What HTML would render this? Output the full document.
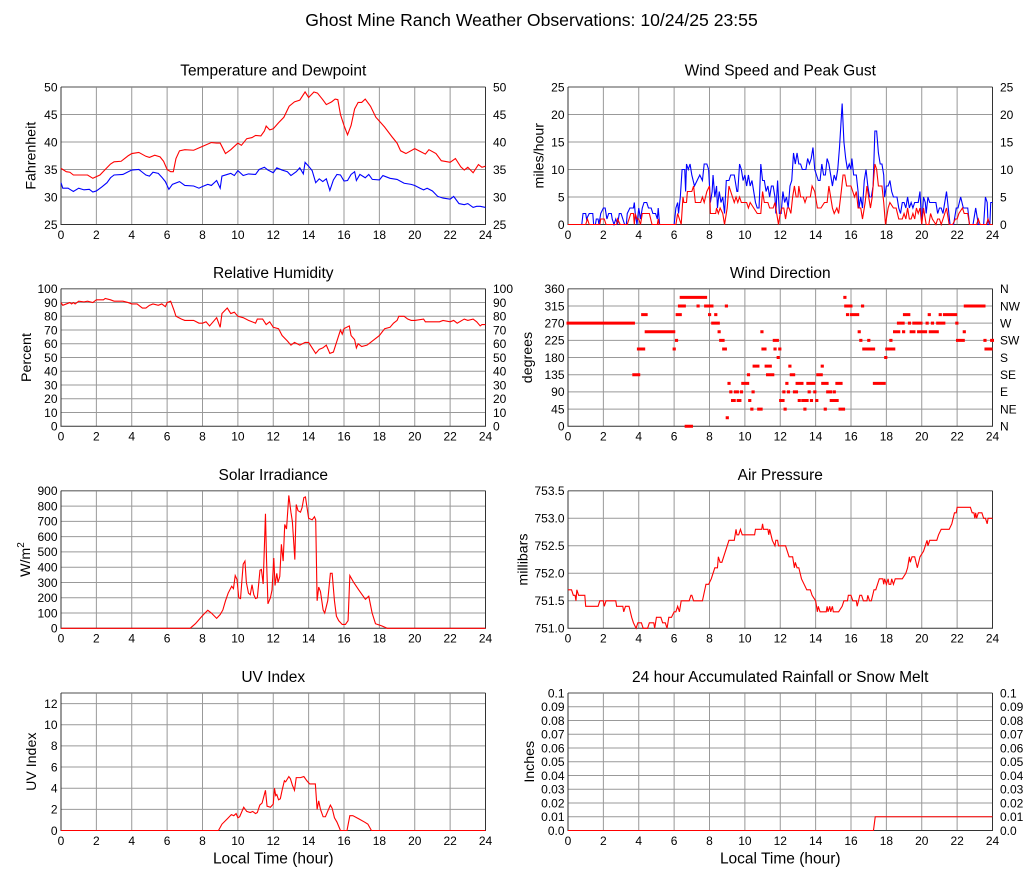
<!DOCTYPE html>
<html><head><meta charset="utf-8"><style>
html,body{margin:0;padding:0;background:#fff}
svg{display:block}
text{font-family:"Liberation Sans",Arial,sans-serif;fill:#000}
.t{font-size:12px}
.e{text-anchor:end}
.m{text-anchor:middle}
.h{font-size:15.5px;text-anchor:middle}
.a{font-size:14.2px;text-anchor:middle}
.g{stroke:#999;stroke-width:1;fill:none}
.f{stroke:#333;stroke-width:1;fill:none}
.ft{stroke:#888;stroke-width:1.5;fill:none}
.r{stroke:#f00;stroke-width:1.1;fill:none;vector-effect:non-scaling-stroke}
.b{stroke:#00f;stroke-width:1.1;fill:none;vector-effect:non-scaling-stroke}
.d{stroke:#f00;stroke-width:3;fill:none;stroke-linecap:square;vector-effect:non-scaling-stroke}
</style></head><body>
<svg width="1027" height="878" viewBox="0 0 1027 878" xmlns="http://www.w3.org/2000/svg">
<rect width="1027" height="878" fill="#fff"/>
<defs><path id="vg" d="M35.375 0V137.5M70.75 0V137.5M106.125 0V137.5M141.5 0V137.5M176.875 0V137.5M212.25 0V137.5M247.625 0V137.5M283 0V137.5M318.375 0V137.5M353.75 0V137.5M389.125 0V137.5"/></defs>
<text x="531.5" y="26" style="font-size:17.6px" text-anchor="middle">Ghost Mine Ranch Weather Observations: 10/24/25 23:55</text>

<!-- Temperature -->
<g transform="translate(61,87)">
<use href="#vg" class="g"/>
<path class="g" d="M0 27.5H424.5M0 55H424.5M0 82.5H424.5M0 110H424.5"/>
<path class="ft" d="M0 0H424.5"/><path class="f" d="M0 0V137.5H424.5V0"/>
<g transform="translate(0,137.5) scale(17.6875,-5.5) translate(0,-25)">
<polyline class="r" points="0,35.2 0.3,34.6 0.5,34.5 0.7,34.0 1,34.0 1.5,34.0 1.8,33.4 2.2,34.0 2.5,35.0 2.8,36.0 3.0,36.4 3.4,36.5 3.8,37.5 4.0,37.9 4.4,38.1 4.8,37.4 5.0,37.2 5.3,37.6 5.6,37.3 5.8,36.5 6.0,35.0 6.2,34.6 6.35,34.6 6.5,37.0 6.7,38.4 7.0,38.6 7.5,38.5 8.0,39.2 8.5,39.9 8.8,39.8 9.0,39.8 9.3,37.9 9.6,38.6 10.0,39.8 10.2,39.4 10.5,40.6 10.8,40.8 11.0,41.2 11.3,41.1 11.5,42.0 11.6,42.9 11.8,42.2 12.0,42.4 12.3,43.5 12.6,44.5 12.9,46.5 13.2,47.3 13.5,47.6 13.8,49.1 14.0,48.1 14.3,49.1 14.5,48.9 14.8,47.7 15.0,46.8 15.3,47.3 15.5,47.8 15.65,47.7 15.8,45.0 16.0,43.0 16.2,41.3 16.4,43.0 16.6,46.0 16.8,47.2 17.0,47.2 17.2,47.8 17.5,46.5 17.8,44.5 18.0,43.8 18.3,42.7 18.7,41.0 19.0,39.8 19.2,38.4 19.5,37.9 20.0,38.8 20.3,38.3 20.6,37.8 20.8,38.6 21.2,37.9 21.5,36.6 22.0,36.3 22.3,37.0 22.6,35.5 22.8,34.9 23.0,35.4 23.3,34.4 23.6,35.9 23.8,35.4 24,35.6"/>
<polyline class="b" points="0,32.6 0.1,31.6 0.4,31.6 0.5,31.4 0.7,31.0 1.0,31.6 1.3,31.3 1.6,31.4 1.8,30.9 2.0,31.1 2.3,31.8 2.6,32.6 2.8,33.5 3.0,34.0 3.5,34.1 4.0,34.9 4.4,35.0 4.6,34.5 4.8,34.0 5.0,33.8 5.2,34.5 5.5,34.3 5.7,33.6 5.9,32.8 6.1,31.4 6.3,32.3 6.7,32.8 7.0,32.1 7.5,32.0 7.8,31.6 8.0,31.9 8.3,32.3 8.5,32.1 8.8,33.0 9.0,31.6 9.1,33.8 9.4,34.1 9.6,34.3 9.8,33.9 10.0,34.8 10.3,33.9 10.6,34.2 11.0,34.1 11.2,35.0 11.5,35.4 11.7,34.9 12.0,34.4 12.2,35.3 12.5,34.9 12.8,34.6 13.0,33.9 13.3,34.6 13.5,35.3 13.7,34.2 13.8,36.3 14.0,35.6 14.2,34.8 14.4,32.6 14.6,33.3 14.8,32.8 15.0,33.3 15.2,31.2 15.4,33.1 15.6,34.1 15.8,34.0 16.0,32.9 16.2,33.0 16.4,34.1 16.6,34.6 16.7,33.0 16.9,34.1 17.2,33.5 17.4,34.1 17.6,33.2 18.0,33.1 18.2,33.9 18.6,33.4 19.0,33.2 19.4,32.5 19.8,32.3 20.0,32.1 20.3,31.6 20.5,31.3 20.7,31.6 21.0,31.1 21.3,30.1 21.6,29.8 22.0,29.6 22.2,30.1 22.5,28.8 22.8,28.6 23.0,28.8 23.3,28.1 23.5,28.3 23.7,28.3 24,28.1"/>
</g>
<text class="h" x="212.25" y="-11.5">Temperature and Dewpoint</text>
<text class="a" transform="translate(-25.5,68.75) rotate(-90)">Fahrenheit</text>
<g class="t e"><text x="-3.5" y="4.3">50</text><text x="-3.5" y="31.8">45</text><text x="-3.5" y="59.3">40</text><text x="-3.5" y="86.8">35</text><text x="-3.5" y="114.3">30</text><text x="-3.5" y="141.8">25</text></g>
<g class="t"><text x="432" y="4.3">50</text><text x="432" y="31.8">45</text><text x="432" y="59.3">40</text><text x="432" y="86.8">35</text><text x="432" y="114.3">30</text><text x="432" y="141.8">25</text></g>
<g class="t m"><text x="0" y="151.8">0</text><text x="35.375" y="151.8">2</text><text x="70.75" y="151.8">4</text><text x="106.125" y="151.8">6</text><text x="141.5" y="151.8">8</text><text x="176.875" y="151.8">10</text><text x="212.25" y="151.8">12</text><text x="247.625" y="151.8">14</text><text x="283" y="151.8">16</text><text x="318.375" y="151.8">18</text><text x="353.75" y="151.8">20</text><text x="389.125" y="151.8">22</text><text x="424.5" y="151.8">24</text></g>
</g>

<!-- Wind speed -->
<g transform="translate(568,87)">
<use href="#vg" class="g"/>
<path class="g" d="M0 27.5H424.5M0 55H424.5M0 82.5H424.5M0 110H424.5"/>
<path class="ft" d="M0 0H424.5"/><path class="f" d="M0 0V137.5H424.5V0"/>
<g transform="translate(0,137.5) scale(17.6875,-5.5)">
<polyline class="b" points="0,0 0.78,0 0.85,2 1.0,2 1.05,1 1.2,2 1.4,2 1.45,0 1.55,0 1.6,1 1.7,1 1.75,0 1.85,2 2.0,3 2.1,3 2.2,1 2.3,2 2.45,2 2.5,1 2.6,0 2.7,1 2.8,0 2.9,2 3.0,2 3.1,1 3.2,0 3.3,0 3.35,2 3.5,3 3.6,3 3.7,3 3.75,4 3.8,2 3.9,0 4.0,3 4.1,1 4.2,3 4.3,4 4.45,4 4.55,3 4.7,3 4.8,2 4.95,2 5.05,1 5.1,3 5.18,0 6.0,0 6.1,3 6.2,4 6.25,2 6.35,5 6.45,10 6.6,10 6.65,6 6.7,11 6.8,10 6.9,11 7.0,9 7.15,7 7.3,8 7.45,9 7.6,8 7.7,11 7.85,11 7.95,10 8.05,4 8.15,6 8.2,9 8.3,5 8.4,7 8.45,3 8.55,6 8.65,4 8.75,5 8.85,2 8.95,8 9.1,8 9.2,9 9.4,9 9.55,6 9.6,6 9.7,11 9.8,10 9.9,8 10.0,9 10.1,7 10.2,9 10.3,7 10.4,8 10.5,6 10.6,4 10.7,3 10.8,3 10.9,11 11.0,8 11.1,8 11.2,6 11.3,7 11.4,5 11.5,7 11.6,7 11.7,5 11.75,2 11.85,8 11.95,2 12.05,2 12.15,6 12.25,4 12.35,5 12.45,3 12.55,7 12.65,8 12.75,13 12.85,11 12.95,13 13.05,11 13.15,11 13.25,10 13.45,10 13.55,12 13.65,11 13.75,12 13.85,14 13.95,10 14.05,9 14.15,8 14.25,8 14.35,11 14.45,9 14.55,9 14.65,12 14.75,11 14.85,9 14.95,7 15.05,9 15.15,8 15.25,10 15.35,14 15.5,22 15.6,15 15.7,12 15.8,10 15.9,11 16.0,10 16.05,12 16.15,9 16.3,9 16.4,6 16.45,3 16.55,5 16.65,3 16.75,8 16.85,10 16.95,7 17.05,5 17.15,5 17.25,7 17.35,17 17.45,17 17.55,13 17.65,11 17.75,11 17.85,9 17.9,5 18.0,7 18.1,7 18.2,8 18.3,6 18.4,5 18.5,5 18.6,5 18.7,3 18.8,2 18.9,4 19.0,4 19.1,3 19.2,5 19.3,3 19.4,4 19.5,3 19.6,4 19.7,4 19.8,4 19.9,6 20.0,0 20.1,5 20.2,4 20.25,2 20.35,5 20.45,4 20.8,4 20.9,2 21.0,3 21.1,3 21.2,2 21.3,4 21.4,6 21.5,3 21.6,0 21.8,0 21.95,3 22.05,3 22.2,5 22.35,3 22.6,3 22.7,0 22.9,0 23.05,3 23.2,0 23.5,0 23.6,5 23.7,4 23.75,0 23.85,0 23.9,4 24,4"/>
<polyline class="r" points="0,0 1.0,0 1.1,1 1.2,0 1.8,0 1.85,1 2.05,1 2.15,0 2.75,0 2.8,1 2.95,0 3.35,0 3.45,1 3.55,2 3.7,2 3.75,0 3.8,2 3.9,1 4.0,1 4.1,0 4.2,2 4.6,2 4.75,0 5.05,0 5.1,1 5.15,0 6.1,0 6.2,2 6.3,1 6.4,0 6.5,5 6.55,4 6.7,4 6.75,6 7.0,6 7.1,7 7.2,4 7.5,4 7.6,5 7.7,4 7.85,6 8.0,7 8.05,2 8.35,2 8.4,3 8.5,2 8.6,3 8.75,2 8.85,0 9.0,3 9.1,7 9.2,6 9.3,5 9.4,4 9.5,5 9.6,4 9.7,5 9.8,4 10.1,4 10.2,3 10.3,4 10.5,3 10.7,2 10.9,2 11.0,6 11.1,4 11.3,4 11.4,3 11.6,3 11.7,4 11.8,2 11.9,0 12.0,2 12.1,3 12.2,3 12.3,1 12.4,3 12.5,3 12.6,2 12.7,5 12.8,7 12.9,5 13.0,5 13.05,7 13.15,5 13.3,5 13.4,4 13.5,5 13.7,5 13.8,7 13.95,6 14.1,3 14.3,3 14.5,4 14.65,4 14.75,7 14.85,5 14.95,3 15.05,2 15.2,3 15.3,2 15.45,6 15.55,9 15.65,9 15.75,7 16.0,7 16.1,6 16.2,5 16.3,6 16.4,3 16.55,3 16.65,1 16.8,4 16.9,7 17.0,5 17.1,3 17.2,5 17.35,11 17.45,10 17.55,7 17.75,7 17.85,4 17.95,0 18.1,3 18.2,4 18.4,3 18.55,3 18.7,1 18.9,1 19.0,2 19.1,1 19.2,3 19.3,1 19.4,1 19.5,2 19.6,1 19.7,3 19.8,2 19.9,3 20.0,0 20.1,3 20.25,0 20.4,0 20.5,2 20.6,1 20.8,0 20.9,1 21.0,1 21.1,0 21.3,2 21.4,3 21.55,0 21.75,0 21.9,1 22.0,1 22.1,2 22.3,3 22.4,2 22.6,2 22.7,0 23.1,0 23.2,1 23.3,0 23.65,0 23.75,1 23.85,0 24,0"/>
</g>
<text class="h" x="212.25" y="-11.5">Wind Speed and Peak Gust</text>
<text class="a" transform="translate(-24.5,68.75) rotate(-90)">miles/hour</text>
<g class="t e"><text x="-3.5" y="4.3">25</text><text x="-3.5" y="31.8">20</text><text x="-3.5" y="59.3">15</text><text x="-3.5" y="86.8">10</text><text x="-3.5" y="114.3">5</text><text x="-3.5" y="141.8">0</text></g>
<g class="t"><text x="432" y="4.3">25</text><text x="432" y="31.8">20</text><text x="432" y="59.3">15</text><text x="432" y="86.8">10</text><text x="432" y="114.3">5</text><text x="432" y="141.8">0</text></g>
<g class="t m"><text x="0" y="151.8">0</text><text x="35.375" y="151.8">2</text><text x="70.75" y="151.8">4</text><text x="106.125" y="151.8">6</text><text x="141.5" y="151.8">8</text><text x="176.875" y="151.8">10</text><text x="212.25" y="151.8">12</text><text x="247.625" y="151.8">14</text><text x="283" y="151.8">16</text><text x="318.375" y="151.8">18</text><text x="353.75" y="151.8">20</text><text x="389.125" y="151.8">22</text><text x="424.5" y="151.8">24</text></g>
</g>

<!-- Relative Humidity -->
<g transform="translate(61,288.8)">
<use href="#vg" class="g"/>
<path class="g" d="M0 13.75H424.5M0 27.5H424.5M0 41.25H424.5M0 55H424.5M0 68.75H424.5M0 82.5H424.5M0 96.25H424.5M0 110H424.5M0 123.75H424.5"/>
<path class="ft" d="M0 0H424.5"/><path class="f" d="M0 0V137.5H424.5V0"/>
<g transform="translate(0,137.5) scale(17.6875,-1.375)">
<polyline class="r" points="0,90 0.1,88 0.3,89 0.5,90 0.6,89 0.7,90 0.8,89 1.0,91 1.3,90.5 1.5,91 1.8,90 2.0,92 2.4,92 2.5,93 2.8,92 3.0,91 3.5,91 3.8,90 4.0,89 4.3,89 4.6,86 4.8,86 5.0,88 5.2,89 5.5,88 5.7,89 5.8,88 5.9,87 6.0,90 6.2,91 6.4,84 6.5,80 6.8,78 7.0,77 7.5,77 7.8,75 8.0,75 8.2,76 8.4,73 8.6,76 8.8,79 9.0,72 9.1,82 9.4,86 9.6,82 9.8,83 10.0,80 10.3,79 10.6,77 11.0,75 11.1,78 11.4,78 11.6,74 11.8,76 12.0,72 12.3,71 12.5,66 12.8,62 13.0,59 13.2,61 13.5,59 13.8,61 14.0,61 14.2,57 14.4,53 14.6,56 14.8,57 15.0,59 15.2,53 15.4,54 15.6,62 15.8,70 15.9,67 16.0,71 16.3,73 16.4,66 16.6,63 16.7,57 16.8,60 17.0,58 17.3,59 17.5,61 17.8,64 18.0,66 18.3,71 18.6,72 18.8,75 19.0,77 19.1,80 19.4,80 19.6,78 19.8,77 20.0,77 20.5,78 20.6,76 21.0,76 21.4,76 21.6,77 22.0,76 22.2,77 22.4,75 22.8,78 23.0,77 23.3,78 23.5,76 23.7,73 23.8,74 24,74"/>
</g>
<text class="h" x="212.25" y="-11">Relative Humidity</text>
<text class="a" transform="translate(-30,68.75) rotate(-90)">Percent</text>
<g class="t e"><text x="-3.5" y="4.3">100</text><text x="-3.5" y="18.05">90</text><text x="-3.5" y="31.8">80</text><text x="-3.5" y="45.55">70</text><text x="-3.5" y="59.3">60</text><text x="-3.5" y="73.05">50</text><text x="-3.5" y="86.8">40</text><text x="-3.5" y="100.55">30</text><text x="-3.5" y="114.3">20</text><text x="-3.5" y="128.05">10</text><text x="-3.5" y="141.8">0</text></g>
<g class="t"><text x="432" y="4.3">100</text><text x="432" y="18.05">90</text><text x="432" y="31.8">80</text><text x="432" y="45.55">70</text><text x="432" y="59.3">60</text><text x="432" y="73.05">50</text><text x="432" y="86.8">40</text><text x="432" y="100.55">30</text><text x="432" y="114.3">20</text><text x="432" y="128.05">10</text><text x="432" y="141.8">0</text></g>
<g class="t m"><text x="0" y="151.8">0</text><text x="35.375" y="151.8">2</text><text x="70.75" y="151.8">4</text><text x="106.125" y="151.8">6</text><text x="141.5" y="151.8">8</text><text x="176.875" y="151.8">10</text><text x="212.25" y="151.8">12</text><text x="247.625" y="151.8">14</text><text x="283" y="151.8">16</text><text x="318.375" y="151.8">18</text><text x="353.75" y="151.8">20</text><text x="389.125" y="151.8">22</text><text x="424.5" y="151.8">24</text></g>
</g>

<!-- Wind Direction -->
<g transform="translate(568,288.8)">
<use href="#vg" class="g"/>
<path class="g" d="M0 17.19H424.5M0 34.38H424.5M0 51.56H424.5M0 68.75H424.5M0 85.94H424.5M0 103.13H424.5M0 120.31H424.5"/>
<path class="ft" d="M0 0H424.5"/><path class="f" d="M0 0V137.5H424.5V0"/>
<g transform="translate(0,137.5) scale(17.6875,-0.381944)">
<path class="d" d="M0 270H3.7M3.72 135H4.0M3.98 202.5H4.28M4.22 292.5H4.42M4.42 247.5H5.98M6.0 202.5h.01M6.13 225h.01M6.17 292.5H6.35M6.3 315H6.58M6.4 337.5H6.65M6.68 0H6.98M6.78 337.5H7.3M7.35 315h.01M7.42 337.5H7.78M7.78 315H8.14M8.0 292.5h.01M8.18 270H8.5M8.35 292.5h.01M8.54 247.5h.01M8.63 225H8.77M8.8 202.5H8.9M8.95 315h.01M9.0 22.5h.01M9.1 112.5h.01M9.2 90h.01M9.3 67.5H9.4M9.46 90H9.58M9.62 67.5H9.72M9.8 90h.01M9.88 112.5H10.16M10.2 135h.01M10.27 67.5h.01M10.39 45h.01M10.46 90h.01M10.52 157.5H10.74M10.78 45H10.92M10.96 247.5h.01M11.02 202.5H11.14M11.2 157.5H11.44M11.28 135H11.58M11.66 225H11.84M11.7 202.5h.01M11.88 180h.01M11.97 202.5h.01M12.02 67.5H12.16M12.2 90h.01M12.27 45h.01M12.37 112.5h.01M12.46 90h.01M12.54 157.5h.01M12.62 135H12.76M12.8 90H12.92M12.95 112.5H13.23M13.07 67.5h.01M13.27 67.5H13.52M13.39 45h.01M13.56 112.5H13.9M13.63 90h.01M13.76 67.5h.01M13.95 90h.01M14.06 67.5h.01M14.12 135H14.32M14.37 157.5h.01M14.4 112.5H14.65M14.54 45h.01M14.68 90H14.85M14.88 67.5H15.22M15.05 90h.01M15.2 112.5H15.44M15.38 45H15.58M15.65 337.5h.01M15.7 315H16.0M15.8 292.5h.01M16.02 292.5H16.38M16.46 247.5h.01M16.55 225h.01M16.65 315h.01M16.72 202.5H17.28M17.0 225h.01M17.32 112.5H17.88M17.96 180h.01M18.02 202.5H18.42M18.25 225h.01M18.46 247.5H18.7M18.68 270H18.95M18.97 247.5h.01M19.02 292.5H19.27M19.3 270h.01M19.4 247.5H19.56M19.55 270H19.78M19.82 247.5H20.22M19.95 270h.01M20.3 270h.01M20.42 292.5h.01M20.48 247.5H20.88M20.6 270h.01M20.9 270H21.25M21.04 292.5h.01M21.28 292.5H21.92M21.98 270h.01M22.02 225H22.35M22.4 247.5h.01M22.46 315H23.52M23.57 225h.01M23.63 202.5H23.92M23.95 225H24"/>
</g>
<text class="h" x="212.25" y="-11">Wind Direction</text>
<text class="a" transform="translate(-36,68.75) rotate(-90)">degrees</text>
<g class="t e"><text x="-3.5" y="4.3">360</text><text x="-3.5" y="21.49">315</text><text x="-3.5" y="38.68">270</text><text x="-3.5" y="55.86">225</text><text x="-3.5" y="73.05">180</text><text x="-3.5" y="90.24">135</text><text x="-3.5" y="107.43">90</text><text x="-3.5" y="124.61">45</text><text x="-3.5" y="141.8">0</text></g>
<g class="t"><text x="432" y="4.3">N</text><text x="432" y="21.49">NW</text><text x="432" y="38.68">W</text><text x="432" y="55.86">SW</text><text x="432" y="73.05">S</text><text x="432" y="90.24">SE</text><text x="432" y="107.43">E</text><text x="432" y="124.61">NE</text><text x="432" y="141.8">N</text></g>
<g class="t m"><text x="0" y="151.8">0</text><text x="35.375" y="151.8">2</text><text x="70.75" y="151.8">4</text><text x="106.125" y="151.8">6</text><text x="141.5" y="151.8">8</text><text x="176.875" y="151.8">10</text><text x="212.25" y="151.8">12</text><text x="247.625" y="151.8">14</text><text x="283" y="151.8">16</text><text x="318.375" y="151.8">18</text><text x="353.75" y="151.8">20</text><text x="389.125" y="151.8">22</text><text x="424.5" y="151.8">24</text></g>
</g>

<!-- Solar -->
<g transform="translate(61,490.8)">
<use href="#vg" class="g"/>
<path class="g" d="M0 15.28H424.5M0 30.56H424.5M0 45.83H424.5M0 61.11H424.5M0 76.39H424.5M0 91.67H424.5M0 106.94H424.5M0 122.22H424.5"/>
<path class="ft" d="M0 0H424.5"/><path class="f" d="M0 0V137.5H424.5V0"/>
<g transform="translate(0,137.5) scale(17.6875,-0.152778)">
<polyline class="r" points="0,0 7.3,0 7.6,30 7.9,70 8.1,95 8.3,118 8.5,100 8.8,65 9.0,90 9.15,120 9.3,180 9.45,230 9.65,275 9.75,260 9.85,345 9.95,320 10.05,200 10.15,195 10.3,420 10.4,440 10.48,300 10.6,230 10.7,220 10.8,285 10.9,220 11.0,195 11.1,200 11.25,380 11.33,385 11.43,290 11.56,750 11.62,450 11.7,160 11.84,200 11.93,250 12.03,460 12.1,280 12.2,360 12.27,300 12.37,340 12.46,550 12.56,440 12.65,680 12.75,650 12.88,870 13.0,760 13.08,700 13.22,450 13.3,810 13.4,770 13.54,760 13.63,790 13.73,855 13.82,860 14.0,720 14.2,710 14.33,730 14.4,710 14.48,180 14.57,270 14.67,240 14.82,120 14.91,100 15.08,180 15.23,360 15.33,360 15.46,180 15.57,80 15.7,50 15.9,25 16.08,25 16.23,50 16.33,345 16.55,300 16.84,250 17.21,190 17.4,210 17.59,100 17.78,30 18.15,15 18.44,0 24,0"/>
</g>
<text class="h" x="212.25" y="-11">Solar Irradiance</text>
<text class="a" transform="translate(-31,68.75) rotate(-90)">W/m<tspan dy="-6" style="font-size:10px">2</tspan></text>
<g class="t e"><text x="-3.5" y="4.3">900</text><text x="-3.5" y="19.58">800</text><text x="-3.5" y="34.86">700</text><text x="-3.5" y="50.13">600</text><text x="-3.5" y="65.41">500</text><text x="-3.5" y="80.69">400</text><text x="-3.5" y="95.97">300</text><text x="-3.5" y="111.24">200</text><text x="-3.5" y="126.52">100</text><text x="-3.5" y="141.8">0</text></g>
<g class="t m"><text x="0" y="151.8">0</text><text x="35.375" y="151.8">2</text><text x="70.75" y="151.8">4</text><text x="106.125" y="151.8">6</text><text x="141.5" y="151.8">8</text><text x="176.875" y="151.8">10</text><text x="212.25" y="151.8">12</text><text x="247.625" y="151.8">14</text><text x="283" y="151.8">16</text><text x="318.375" y="151.8">18</text><text x="353.75" y="151.8">20</text><text x="389.125" y="151.8">22</text><text x="424.5" y="151.8">24</text></g>
</g>

<!-- Pressure -->
<g transform="translate(568,490.8)">
<use href="#vg" class="g"/>
<path class="g" d="M0 27.5H424.5M0 55H424.5M0 82.5H424.5M0 110H424.5"/>
<path class="ft" d="M0 0H424.5"/><path class="f" d="M0 0V137.5H424.5V0"/>
<g transform="translate(0,137.5) scale(17.6875,-55) translate(0,-751)">
<polyline class="r" points="0,751.7 0.2,751.7 0.3,751.6 0.4,751.6 0.45,751.5 0.5,751.7 0.6,751.6 0.95,751.6 1.0,751.4 1.7,751.4 1.8,751.5 2.0,751.5 2.05,751.4 2.15,751.5 2.7,751.5 2.75,751.4 3.1,751.4 3.15,751.3 3.25,751.4 3.45,751.4 3.6,751.2 3.7,751.1 3.85,751.0 3.95,751.1 4.15,751.1 4.25,751.0 4.5,751.0 4.6,751.1 4.85,751.1 4.9,751.0 5.0,751.2 5.25,751.2 5.35,751.1 5.5,751.1 5.6,751.0 5.7,751.2 5.85,751.2 6.0,751.3 6.1,751.3 6.2,751.4 6.3,751.3 6.4,751.5 6.85,751.5 6.95,751.6 7.0,751.6 7.1,751.5 7.6,751.5 7.8,751.8 7.95,751.8 8.1,751.9 8.3,752.1 8.45,752.1 8.5,752.3 8.6,752.2 8.7,752.2 8.9,752.4 9.1,752.6 9.4,752.6 9.5,752.8 9.55,752.7 9.65,752.7 9.75,752.8 9.85,752.7 10.55,752.7 10.6,752.8 10.95,752.8 11.0,752.9 11.05,752.8 11.3,752.8 11.35,752.7 11.4,752.8 11.55,752.6 11.7,752.5 11.75,752.6 11.85,752.6 11.9,752.5 12.3,752.5 12.4,752.4 12.5,752.3 12.7,752.3 12.8,752.1 12.85,752.2 12.95,752.1 13.05,752.1 13.2,751.9 13.35,751.8 13.5,751.7 13.7,751.7 13.8,751.6 14.0,751.5 14.1,751.3 14.15,751.4 14.25,751.3 14.6,751.3 14.65,751.4 14.7,751.3 14.8,751.4 14.85,751.3 14.95,751.4 15.0,751.3 15.3,751.3 15.5,751.4 15.6,751.5 15.8,751.5 15.85,751.6 16.0,751.6 16.1,751.5 16.3,751.5 16.35,751.4 16.5,751.6 16.6,751.6 16.7,751.5 16.9,751.5 16.95,751.6 17.05,751.5 17.15,751.5 17.3,751.7 17.4,751.7 17.6,751.9 17.8,751.9 17.85,751.8 17.9,751.9 18.0,751.8 18.1,751.9 18.15,751.8 18.25,751.8 18.3,751.9 18.4,751.8 18.5,751.9 18.9,751.9 19.1,752.0 19.2,752.1 19.3,752.3 19.35,752.2 19.45,752.3 19.6,752.3 19.75,752.1 19.9,752.3 20.1,752.4 20.2,752.5 20.3,752.6 20.35,752.5 20.45,752.6 20.85,752.6 20.95,752.7 21.1,752.8 21.55,752.8 21.7,752.9 21.85,753.1 21.95,753.1 22.0,753.2 22.75,753.2 22.85,753.1 22.95,753.1 23.0,753.0 23.05,753.1 23.1,753.0 23.2,753.1 23.4,753.1 23.5,753.0 23.6,753.0 23.7,752.9 23.75,753.0 24,753.0"/>
</g>
<text class="h" x="212.25" y="-11">Air Pressure</text>
<text class="a" transform="translate(-40.5,68.75) rotate(-90)">millibars</text>
<g class="t e"><text x="-3.5" y="4.3">753.5</text><text x="-3.5" y="31.8">753.0</text><text x="-3.5" y="59.3">752.5</text><text x="-3.5" y="86.8">752.0</text><text x="-3.5" y="114.3">751.5</text><text x="-3.5" y="141.8">751.0</text></g>
<g class="t m"><text x="0" y="151.8">0</text><text x="35.375" y="151.8">2</text><text x="70.75" y="151.8">4</text><text x="106.125" y="151.8">6</text><text x="141.5" y="151.8">8</text><text x="176.875" y="151.8">10</text><text x="212.25" y="151.8">12</text><text x="247.625" y="151.8">14</text><text x="283" y="151.8">16</text><text x="318.375" y="151.8">18</text><text x="353.75" y="151.8">20</text><text x="389.125" y="151.8">22</text><text x="424.5" y="151.8">24</text></g>
</g>

<!-- UV -->
<g transform="translate(61,693)">
<use href="#vg" class="g"/>
<path class="g" d="M0 10.58H424.5M0 31.73H424.5M0 52.88H424.5M0 74.04H424.5M0 95.19H424.5M0 116.35H424.5"/>
<path class="ft" d="M0 0H424.5"/><path class="f" d="M0 0V137.5H424.5V0"/>
<g transform="translate(0,137.5) scale(17.6875,-10.5769)">
<polyline class="r" points="0,0 8.9,0 8.97,0.2 9.1,0.6 9.4,1.1 9.63,1.5 9.77,1.4 9.9,1.6 10.0,1.2 10.1,1.3 10.33,2.2 10.5,1.8 10.7,1.7 10.84,1.8 11.0,1.6 11.1,1.7 11.24,2.4 11.37,2.6 11.56,3.8 11.65,2.3 11.84,2.2 12.0,2.5 12.07,4.0 12.14,3.3 12.2,3.4 12.3,2.9 12.4,3.0 12.5,3.8 12.63,4.7 12.7,4.6 12.88,5.1 12.97,4.9 13.08,4.3 13.2,3.8 13.3,5.0 13.54,5.0 13.73,5.1 13.9,4.7 14.06,4.4 14.38,4.4 14.48,2.0 14.57,2.8 14.67,2.0 14.82,1.3 14.95,1.3 15.1,1.9 15.23,2.4 15.33,2.1 15.46,1.2 15.6,0.8 15.8,0 16.17,0 16.33,1.4 16.5,1.4 16.84,1.1 17.16,0.8 17.35,0.6 17.55,0 24,0"/>
</g>
<text class="h" x="212.25" y="-11">UV Index</text>
<text class="a" transform="translate(-25,68.75) rotate(-90)">UV Index</text>
<g class="t e"><text x="-3.5" y="14.88">12</text><text x="-3.5" y="36.03">10</text><text x="-3.5" y="57.18">8</text><text x="-3.5" y="78.34">6</text><text x="-3.5" y="99.49">4</text><text x="-3.5" y="120.65">2</text><text x="-3.5" y="141.8">0</text></g>
<g class="t m"><text x="0" y="151.8">0</text><text x="35.375" y="151.8">2</text><text x="70.75" y="151.8">4</text><text x="106.125" y="151.8">6</text><text x="141.5" y="151.8">8</text><text x="176.875" y="151.8">10</text><text x="212.25" y="151.8">12</text><text x="247.625" y="151.8">14</text><text x="283" y="151.8">16</text><text x="318.375" y="151.8">18</text><text x="353.75" y="151.8">20</text><text x="389.125" y="151.8">22</text><text x="424.5" y="151.8">24</text></g>
<text class="h" x="212.25" y="170.3">Local Time (hour)</text>
</g>

<!-- Rain -->
<g transform="translate(568,693)">
<use href="#vg" class="g"/>
<path class="g" d="M0 13.75H424.5M0 27.5H424.5M0 41.25H424.5M0 55H424.5M0 68.75H424.5M0 82.5H424.5M0 96.25H424.5M0 110H424.5M0 123.75H424.5"/>
<path class="ft" d="M0 0H424.5"/><path class="f" d="M0 0V137.5H424.5V0"/>
<g transform="translate(0,137.5) scale(17.6875,-1375)">
<polyline class="r" points="0,0 17.27,0 17.37,0.01 24,0.01"/>
</g>
<text class="h" x="212.25" y="-11">24 hour Accumulated Rainfall or Snow Melt</text>
<text class="a" transform="translate(-34,68.75) rotate(-90)">Inches</text>
<g class="t e"><text x="-3.5" y="4.3">0.1</text><text x="-3.5" y="18.05">0.09</text><text x="-3.5" y="31.8">0.08</text><text x="-3.5" y="45.55">0.07</text><text x="-3.5" y="59.3">0.06</text><text x="-3.5" y="73.05">0.05</text><text x="-3.5" y="86.8">0.04</text><text x="-3.5" y="100.55">0.03</text><text x="-3.5" y="114.3">0.02</text><text x="-3.5" y="128.05">0.01</text><text x="-3.5" y="141.8">0.0</text></g>
<g class="t"><text x="432" y="4.3">0.1</text><text x="432" y="18.05">0.09</text><text x="432" y="31.8">0.08</text><text x="432" y="45.55">0.07</text><text x="432" y="59.3">0.06</text><text x="432" y="73.05">0.05</text><text x="432" y="86.8">0.04</text><text x="432" y="100.55">0.03</text><text x="432" y="114.3">0.02</text><text x="432" y="128.05">0.01</text><text x="432" y="141.8">0.0</text></g>
<g class="t m"><text x="0" y="151.8">0</text><text x="35.375" y="151.8">2</text><text x="70.75" y="151.8">4</text><text x="106.125" y="151.8">6</text><text x="141.5" y="151.8">8</text><text x="176.875" y="151.8">10</text><text x="212.25" y="151.8">12</text><text x="247.625" y="151.8">14</text><text x="283" y="151.8">16</text><text x="318.375" y="151.8">18</text><text x="353.75" y="151.8">20</text><text x="389.125" y="151.8">22</text><text x="424.5" y="151.8">24</text></g>
<text class="h" x="212.25" y="170.3">Local Time (hour)</text>
</g>
</svg>
</body></html>
